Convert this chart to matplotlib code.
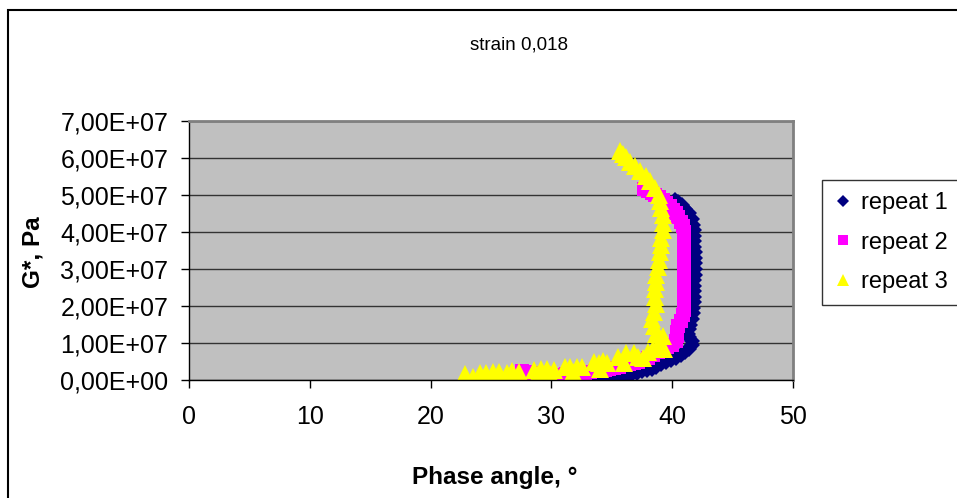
import matplotlib
matplotlib.use("Agg")
import matplotlib.pyplot as plt
from matplotlib.lines import Line2D
from matplotlib.patches import Rectangle
from matplotlib.ticker import FuncFormatter

plt.rcParams['font.family'] = ['Liberation Sans', 'DejaVu Sans']

# G* values are given in units of 1e7 Pa
rep1_phase = [32.3, 32.7, 33.1, 33.5, 33.9, 34.3, 34.7, 35.1, 35.5, 35.9, 36.3, 36.7,
              37.1, 37.5, 37.9, 38.3, 38.7, 39.1, 39.5, 39.9, 40.3, 40.7, 41.1, 41.4,
              41.6, 41.6, 41.4, 41.3, 41.4, 41.5, 41.6, 41.7, 41.7, 41.8, 41.8, 41.8,
              41.8, 41.8, 41.9, 41.9, 41.9, 41.9, 41.9, 41.8, 41.8, 41.8, 41.8, 41.7,
              41.6, 41.4, 41.1, 40.8, 40.5, 40.2]
rep1_g = [0.08, 0.07, 0.09, 0.06, 0.08, 0.09, 0.09, 0.11, 0.12, 0.13, 0.15, 0.17,
          0.2, 0.23, 0.27, 0.31, 0.36, 0.42, 0.48, 0.55, 0.6, 0.68, 0.76, 0.85,
          0.95, 1.05, 1.15, 1.25, 1.38, 1.5, 1.65, 1.8, 1.95, 2.1, 2.25, 2.4,
          2.55, 2.7, 2.85, 3.0, 3.15, 3.3, 3.45, 3.6, 3.75, 3.9, 4.05, 4.2,
          4.35, 4.5, 4.62, 4.72, 4.8, 4.87]

rep2_phase = [27.6, 28.0, 28.4, 28.8, 29.2, 29.6, 30.0, 30.4, 30.8, 31.2, 31.6, 32.0,
              32.4, 32.8, 33.2, 33.6, 34.0, 34.4, 34.8, 35.2, 35.6, 36.0, 36.4, 36.8,
              37.2, 37.6, 38.0, 38.4, 38.8, 39.2, 39.6, 40.0, 40.3, 40.4, 40.4, 40.5,
              40.7, 40.9, 41.0, 41.0, 41.0, 41.0, 41.0, 41.0, 41.0, 41.0, 41.0, 41.0,
              41.0, 41.0, 41.0, 41.0, 41.0, 40.9, 40.7, 40.5, 40.3, 40.1, 39.8, 39.5,
              39.2, 38.9, 38.6, 38.3, 38.0, 37.7]
rep2_g = [0.25, 0.22, 0.2, 0.18, 0.15, 0.13, 0.12, 0.13, 0.14, 0.15, 0.16, 0.18,
          0.19, 0.2, 0.22, 0.24, 0.26, 0.28, 0.3, 0.33, 0.36, 0.4, 0.43, 0.47,
          0.5, 0.55, 0.6, 0.68, 0.75, 0.82, 0.88, 0.95, 1.05, 1.18, 1.3, 1.45,
          1.6, 1.75, 1.9, 2.05, 2.2, 2.35, 2.5, 2.65, 2.8, 2.95, 3.1, 3.25,
          3.4, 3.55, 3.7, 3.85, 4.0, 4.15, 4.28, 4.4, 4.5, 4.6, 4.7, 4.78,
          4.86, 4.94, 5.0, 5.06, 5.11, 5.16]

rep3_phase = [22.85, 23.5, 24.1, 24.6, 25.2, 25.7, 26.3, 26.7, 27.3,
              28.6, 29.1, 29.6, 30.2, 28.9, 29.9,
              31.1, 31.5, 32.1, 32.5, 31.8,
              33.5, 33.9, 34.3, 34.6, 34.0,
              35.5, 36.2, 36.8, 37.2, 36.0, 37.6,
              38.0, 38.4, 38.9, 39.3, 39.2, 38.7, 38.5, 38.3, 38.5, 38.7, 38.6,
              38.6, 38.7, 38.7, 38.8, 38.9, 39.0, 39.1, 39.1, 39.2, 39.2, 39.2,
              39.1, 39.0, 38.9, 38.6, 38.2, 37.8, 37.3, 36.9, 36.5, 36.2, 35.9, 35.7]
rep3_g = [0.15, 0.09, 0.19, 0.19, 0.21, 0.21, 0.2, 0.23, 0.21,
          0.27, 0.29, 0.29, 0.27, 0.15, 0.16,
          0.34, 0.36, 0.35, 0.36, 0.22,
          0.5, 0.47, 0.52, 0.45, 0.3,
          0.63, 0.72, 0.72, 0.63, 0.45, 0.6,
          0.75, 0.85, 1.0, 0.85, 1.2, 1.25, 1.45, 1.65, 1.85, 2.05, 2.25,
          2.45, 2.65, 2.85, 3.05, 3.25, 3.45, 3.65, 3.85, 4.05, 4.25, 4.45,
          4.65, 4.85, 5.0, 5.2, 5.38, 5.52, 5.66, 5.78, 5.9, 6.02, 6.12, 6.2]

labels = ['repeat 1', 'repeat 2', 'repeat 3']
colors = ['#000080', '#FF00FF', '#FFFF00']
markers = ['D', 's', '^']
sizes = [8.5, 9.5, 13]
unit = 1e7

fig = plt.figure(figsize=(9.57, 4.98), dpi=100)
ax = fig.add_axes([189 / 957, 1 - 380 / 498, 604 / 957, 259 / 498])
ax.set_facecolor('#C0C0C0')

series = [(rep1_phase, rep1_g), (rep2_phase, rep2_g), (rep3_phase, rep3_g)]
for (xs, ys), c, m, s in zip(series, colors, markers, sizes):
    ax.plot(xs, [v * unit for v in ys], linestyle='none', marker=m,
            markersize=s, color=c, markeredgewidth=0)

ax.set_xlim(0, 50)
ax.set_ylim(0, 7e7)
ax.set_xticks(range(0, 51, 10))
ax.set_yticks([i * unit for i in range(8)])
ax.yaxis.set_major_formatter(FuncFormatter(lambda v, p: f"{v:.2E}".replace('.', ',')))
ax.grid(axis='y', color='#333333', linewidth=1)
ax.set_axisbelow(True)
ax.tick_params(direction='out', length=6, width=1, labelsize=18, color='black')
ax.tick_params(axis='y', pad=9)
ax.tick_params(axis='x', pad=12)

for side in ['top', 'right']:
    ax.spines[side].set_color('#808080')
    ax.spines[side].set_linewidth(2)
for side in ['left', 'bottom']:
    ax.spines[side].set_color('black')
    ax.spines[side].set_linewidth(1)

ax.set_xlabel('Phase angle, °', fontsize=17.5, fontweight='bold', va='center')
ax.xaxis.set_label_coords((495 - 189) / 604, -(477 - 380) / 259)
ax.set_ylabel('G*, Pa', fontsize=17.5, fontweight='bold', va='center')
ax.yaxis.set_label_coords(-(189 - 33) / 604, (380 - 252) / 259)

fig.text(519 / 957, 1 - 45 / 498, 'strain 0,018', fontsize=13.5,
         ha='center', va='center')

# outer chart frame
fig.add_artist(Rectangle((8 / 957, -0.1), 1.2, 1 - 10 / 498 + 0.1,
                         transform=fig.transFigure, fill=False,
                         edgecolor='black', linewidth=1.5, clip_on=False))

handles = [Line2D([], [], linestyle='none', marker=m, color=c, markeredgewidth=0,
                  markersize=sz) for c, m, sz in zip(colors, markers, [6, 6.5, 9])]
leg = fig.legend(handles, labels, loc='upper left',
                 bbox_to_anchor=(822 / 957, 1 - 180 / 498), fontsize=17,
                 frameon=True, fancybox=False, shadow=False, borderpad=0.5,
                 labelspacing=0.75, handlelength=0.8, handletextpad=0.35,
                 borderaxespad=0)
leg.get_frame().set_edgecolor('black')
leg.get_frame().set_linewidth(1)

fig.savefig('out.png', dpi=100)
